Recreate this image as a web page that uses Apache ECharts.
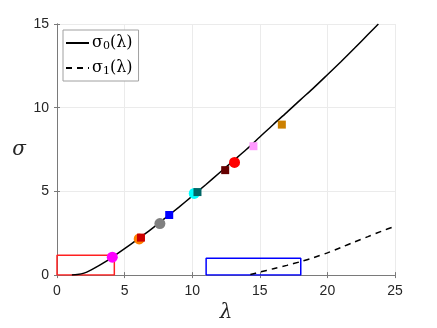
<!DOCTYPE html>
<html>
<head>
<meta charset="utf-8">
<script src="https://cdn.jsdelivr.net/npm/echarts@6/dist/echarts.min.js"></script>
<style>
  html, body { margin: 0; padding: 0; background: #fff; }
  #chart { width: 437px; height: 328px; }
</style>
</head>
<body>
<div id="chart"></div>
<script>
// sigma_0(lambda) curve
const sigma0 = [[1.1, 0], [1.5, 0.03], [2, 0.12], [2.5, 0.3], [3, 0.52], [3.5, 0.76], [4, 1.02], [5, 1.58], [6, 2.16],
  [7, 2.76], [8, 3.4], [9, 4.05], [10, 4.72], [11, 5.4], [12, 6.1], [13, 6.8], [14, 7.5], [15, 8.25],
  [16, 9.0], [17, 9.72], [18, 10.47], [19, 11.2], [20, 11.97], [21, 12.75], [22, 13.55], [23, 14.37], [23.77, 15]];
// sigma_1(lambda) curve
const sigma1 = [[14.3, 0.03], [15, 0.18], [16, 0.38], [17, 0.58], [18, 0.8], [19, 1.05], [20, 1.33],
  [21, 1.65], [22, 1.98], [23, 2.3], [24, 2.62], [25, 2.92]];

// circle markers
const circleX = [4.09, 6.08, 7.61, 10.15, 13.13];
const circleY = [1.07, 2.16, 3.08, 4.88, 6.73];
const circleColors = ['#ff00ff', '#ff8000', '#808080', '#00ffff', '#ff0000'];

// square markers
const squareX = [6.21, 8.3, 10.39, 12.44, 14.53, 16.63];
const squareY = [2.24, 3.59, 4.96, 6.27, 7.7, 8.99];
const squareColors = ['#cc0000', '#0000ff', '#006666', '#660000', '#ff99ff', '#cc8000'];

// highlight boxes [x0, x1, y0, y1]
const redBox = [0, 4.24, 0, 1.19];
const blueBox = [11.03, 18.03, 0, 1.01];

function boxPath(b) {
  return [[b[0], b[2]], [b[1], b[2]], [b[1], b[3]], [b[0], b[3]], [b[0], b[2]]];
}

const tickFont = { fontFamily: 'Liberation Sans', fontSize: 14, color: '#262626' };
const axisGray = '#7a7a7a';

const chart = echarts.init(document.getElementById('chart'));
chart.setOption({
  animation: false,
  grid: { left: 57, right: 42, top: 24, bottom: 51 },
  legend: {
    left: 63, top: 30,
    orient: 'vertical',
    data: ['s0', 's1'],
    backgroundColor: '#fff',
    borderColor: '#a0a0a0',
    borderWidth: 1,
    padding: [5, 6, 4, 2],
    itemGap: 8,
    itemWidth: 23,
    itemHeight: 14,
    itemStyle: { opacity: 0 },
    formatter: name => name === 's0' ? '{a|σ}{s|0}{a|(λ)}' : '{a|σ}{s|1}{a|(λ)}',
    textStyle: {
      padding: [0, 0, 0, -2],
      rich: {
        a: { fontFamily: 'DejaVu Serif', fontSize: 16, color: '#000' },
        s: { fontFamily: 'DejaVu Serif', fontSize: 11, color: '#000', verticalAlign: 'bottom', padding: [7, 0, 0, 0] }
      }
    }
  },
  xAxis: [{
    type: 'value', min: 0, max: 25, interval: 5,
    name: 'λ', nameLocation: 'middle', nameGap: 22,
    nameTextStyle: { fontFamily: 'DejaVu Serif', fontStyle: 'italic', fontSize: 20, color: '#262626' },
    axisLine: { show: true, onZero: false, lineStyle: { color: axisGray } },
    axisTick: { show: true, inside: true, length: 3, lineStyle: { color: axisGray } },
    axisLabel: { ...tickFont, margin: 9 },
    splitLine: { show: true, lineStyle: { color: '#ebebeb' } }
  }, {
    type: 'value', min: 0, max: 25, interval: 5, position: 'top',
    axisLine: { show: true, lineStyle: { color: axisGray } },
    axisTick: { show: true, inside: true, length: 3, lineStyle: { color: axisGray } },
    axisLabel: { show: false }, splitLine: { show: false }
  }],
  yAxis: [{
    type: 'value', min: 0, max: 15, interval: 5,
    name: 'σ', nameLocation: 'middle', nameGap: 31, nameRotate: 0,
    nameTextStyle: { fontFamily: 'DejaVu Serif', fontStyle: 'italic', fontSize: 20, color: '#262626' },
    axisLine: { show: true, onZero: false, lineStyle: { color: axisGray } },
    axisTick: { show: true, inside: true, length: 3, lineStyle: { color: axisGray } },
    axisLabel: { ...tickFont, margin: 8 },
    splitLine: { show: true, lineStyle: { color: '#ebebeb' } }
  }, {
    type: 'value', min: 0, max: 15, interval: 5, position: 'right',
    axisLine: { show: true, lineStyle: { color: axisGray } },
    axisTick: { show: true, inside: true, length: 3, lineStyle: { color: axisGray } },
    axisLabel: { show: false }, splitLine: { show: false }
  }],
  series: [
    {
      name: 'redBox', type: 'line', data: boxPath(redBox), symbol: 'none', z: 3,
      lineStyle: { color: '#ff2020', width: 1.5 }
    },
    {
      name: 'blueBox', type: 'line', data: boxPath(blueBox), symbol: 'none', z: 3,
      lineStyle: { color: '#0000ff', width: 1.5 }
    },
    {
      name: 's0', type: 'line', data: sigma0, symbol: 'none', smooth: 0.3, z: 4,
      itemStyle: { color: '#000' },
      lineStyle: { color: '#000', width: 1.5 }
    },
    {
      name: 's1', type: 'line', data: sigma1, symbol: 'none', smooth: 0.3, z: 4,
      itemStyle: { color: '#000' },
      lineStyle: { color: '#000', width: 1.5, type: [6, 5] }
    },
    {
      name: 'circles', type: 'scatter', symbol: 'circle', symbolSize: 11, z: 5,
      data: circleX.map((x, i) => ({ value: [x, circleY[i]], itemStyle: { color: circleColors[i], opacity: 1 } }))
    },
    {
      name: 'squares', type: 'scatter', symbol: 'rect', symbolSize: 8, z: 6,
      data: squareX.map((x, i) => ({ value: [x, squareY[i]], itemStyle: { color: squareColors[i], opacity: 1 } }))
    }
  ]
});
</script>
</body>
</html>
